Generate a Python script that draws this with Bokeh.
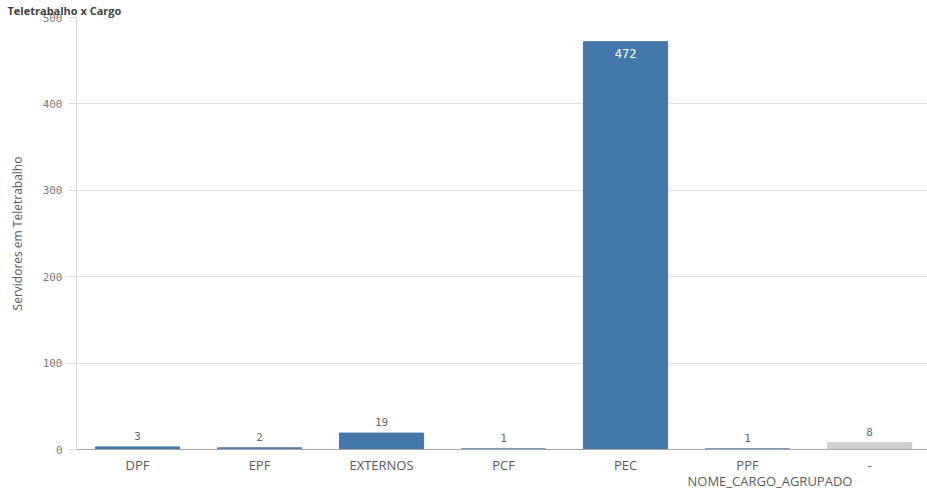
from bokeh.plotting import figure
from bokeh.models import ColumnDataSource, Title, FixedTicker, Range1d
from bokeh.core.properties import value
from bokeh.embed import file_html
from bokeh.resources import INLINE

categories = ["DPF", "EPF", "EXTERNOS", "PCF", "PEC", "PPF", "-"]
servidores = [3, 2, 19, 1, 472, 1, 8]
bar_colors = ["#4477aa", "#4f7fb0", "#4477aa", "#6f95bf", "#4477aa", "#6f95bf", "#cfcfcf"]
y_ticks = [0, 100, 200, 300, 400, 500]
title_text = "Teletrabalho x Cargo"
x_title = "NOME_CARGO_AGRUPADO"
y_title = "Servidores em Teletrabalho"

W, H = 927, 496
FRAME_TOP, FRAME_BOTTOM, FRAME_LEFT = 17, 449, 76
xs = [i + 0.5 for i in range(len(categories))]

p = figure(width=W, height=H, output_backend="svg", toolbar_location=None,
           x_range=Range1d(0, 6.975), y_range=Range1d(0, 500),
           min_border_left=FRAME_LEFT, min_border_right=0, min_border_top=FRAME_TOP,
           min_border_bottom=H - FRAME_BOTTOM)
p.outline_line_color = None
p.background_fill_color = "white"
p.border_fill_color = "white"

src = ColumnDataSource(dict(x=xs, top=servidores, color=bar_colors))
p.vbar(x="x", top="top", width=0.69, bottom=0, color="color", source=src)

# value labels
out_idx = [i for i, v in enumerate(servidores) if v < 300]
in_idx = [i for i, v in enumerate(servidores) if v >= 300]
src_out = ColumnDataSource(dict(x=[xs[i] for i in out_idx], y=[servidores[i] for i in out_idx],
                                t=[str(servidores[i]) for i in out_idx]))
src_in = ColumnDataSource(dict(x=[xs[i] for i in in_idx], y=[servidores[i] for i in in_idx],
                               t=[str(servidores[i]) for i in in_idx]))
p.text(x="x", y="y", text="t", source=src_out, text_align="center", text_baseline="bottom",
       y_offset=-7, text_font=value("DejaVu Sans Mono"), text_font_size="11px", text_color="#666666")
p.text(x="x", y="y", text="t", source=src_in, text_align="center", text_baseline="top",
       y_offset=7, text_font=value("DejaVu Sans Mono"), text_font_size="12px", text_color="white")

# y axis
p.yaxis.ticker = FixedTicker(ticks=y_ticks)
p.yaxis.axis_line_color = "#d4d4d4"
p.yaxis.major_tick_line_color = "#d9d9d9"
p.yaxis.major_tick_out = 8
p.yaxis.major_tick_in = 0
p.yaxis.minor_tick_line_color = None
p.yaxis.major_label_standoff = 6
p.yaxis.major_label_text_font = "DejaVu Sans Mono"
p.yaxis.major_label_text_font_size = "11px"
p.yaxis.major_label_text_color = "#7a7a7a"
p.yaxis.axis_label = y_title
p.yaxis.axis_label_standoff = 14
p.yaxis.axis_label_text_font = "Open Sans"
p.yaxis.axis_label_text_font_size = "12px"
p.yaxis.axis_label_text_font_style = "normal"
p.yaxis.axis_label_text_color = "#595959"
p.ygrid.grid_line_color = "#e3e3e3"
p.ygrid.ticker = FixedTicker(ticks=y_ticks[1:])

# x axis
p.xaxis.ticker = FixedTicker(ticks=xs)
p.xaxis.major_label_overrides = {x: c for x, c in zip(xs, categories)}
p.xaxis.axis_line_color = "#a6a6a6"
p.xaxis.major_tick_line_color = None
p.xaxis.minor_tick_line_color = None
p.xaxis.major_label_standoff = 0
p.xaxis.major_label_text_font = "Open Sans"
p.xaxis.major_label_text_font_size = "13px"
p.xaxis.major_label_text_color = "#595959"
p.xgrid.grid_line_color = None

# x-axis title (offset to the right, like the reference)
p.add_layout(Title(text=x_title, align="left", offset=611, standoff=-13,
                   text_font="Open Sans", text_font_size="13px", text_font_style="normal",
                   text_color="#595959"), "below")

# main title
p.title.text = title_text
p.title.align = "left"
p.title.offset = 7 - FRAME_LEFT
p.title.standoff = 0
p.title.text_font = "Open Sans"
p.title.text_font_size = "11px"
p.title.text_font_style = "bold"
p.title.text_color = "#404040"

open("out.html", "w").write(file_html(p, INLINE))
